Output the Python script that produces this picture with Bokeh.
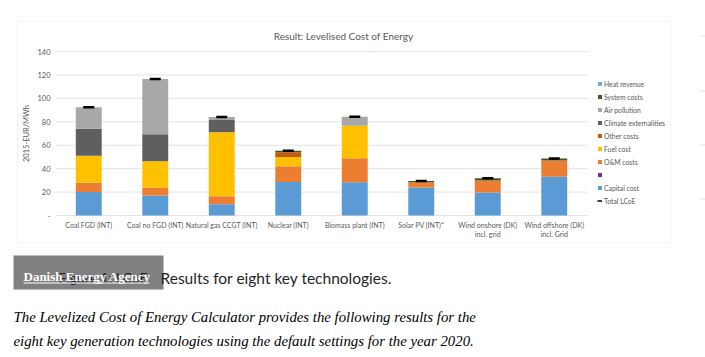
from bokeh.plotting import figure
from bokeh.models import (ColumnDataSource, Range1d, Legend, LegendItem, Label, BoxAnnotation,
                          FixedTicker, CustomJSTickFormatter)
from bokeh.embed import file_html
from bokeh.resources import INLINE

# ---- data ----
categories = ["Coal FGD (INT)", "Coal no FGD (INT)", "Natural gas CCGT (INT)", "Nuclear (INT)",
              "Biomass plant (INT)", "Solar PV (INT)*", "Wind onshore (DK)\nincl. grid",
              "Wind offshore (DK)\nincl. Grid"]
capital = [20.0, 17.0, 9.5, 28.7, 28.4, 24.0, 19.6, 33.0]
blank = [0, 0, 0, 0, 0, 0, 0, 0]
om = [8.0, 6.6, 7.0, 13.3, 20.5, 4.4, 10.2, 13.9]
fuel = [23.0, 22.7, 54.5, 7.7, 27.8, 0, 0, 0]
other = [0, 0, 0, 4.3, 0, 0, 0, 0]
climate = [23.0, 23.0, 10.5, 0, 0, 0, 0, 0]
air = [18.5, 47.2, 2.6, 0, 7.7, 0, 0, 0]
system = [0, 0, 0, 1.2, 0, 1.1, 2.0, 1.7]
heat = [0, 0, 0, 0, 0, 0, 0, 0]
total = [92.5, 116.5, 84.1, 55.2, 84.4, 29.5, 31.8, 48.6]
yticks = [0, 20, 40, 60, 80, 100, 120, 140]

keys = ["capital", "blank", "om", "fuel", "other", "climate", "air", "system", "heat"]
labels = ["Capital cost", " ", "O&M costs", "Fuel cost", "Other costs",
          "Climate externalities", "Air pollution", "System costs", "Heat revenue"]
colors = ["#5B9BD5", "#7030A0", "#ED7D31", "#FFC000", "#C55A11",
          "#5F5F5F", "#A9A7A8", "#3E5A25", "#7FA7D6"]

xpos = list(range(len(categories)))
src = ColumnDataSource(dict(x=xpos, capital=capital, blank=blank, om=om, fuel=fuel,
                            other=other, climate=climate, air=air, system=system,
                            heat=heat, total=total, nan=[float("nan")] * len(categories)))
grid_src = ColumnDataSource(dict(y=yticks, x0=[-0.5] * len(yticks),
                                 x1=[len(categories) - 0.5] * len(yticks)))

FONT = "Lato"
GREY = "#595959"
W, H = 705, 357
# plot area of the chart: x 55..587 px, value 0 at y=215 px, 140 at y=51 px
cat_px = (587 - 55) / len(categories)
x_start = -0.5 - 55 / cat_px
x_end = len(categories) - 0.5 + (W - 587) / cat_px
unit_px = (215 - 51) / 140
y_start = -(H - 215) / unit_px
y_end = 215 / unit_px

p = figure(x_range=Range1d(x_start, x_end), y_range=Range1d(y_start, y_end),
           width=W, height=H, min_border=0, toolbar_location=None,
           output_backend="svg", outline_line_color=None, background_fill_color="white",
           border_fill_color="white", x_axis_location="below", y_axis_location="left")
p.xgrid.visible = False
p.ygrid.visible = False

# gridlines restricted to the plot area
p.segment(x0="x0", x1="x1", y0="y", y1="y", line_color="#E3E3E3", line_width=1, source=grid_src)

rs = p.vbar_stack(keys, x="x", width=0.39, fill_color=colors, line_color=None, source=src)
tot = p.scatter(x="x", y="total", marker="dash", size=11, line_width=2.5,
                line_color="black", source=src)
# legend swatch for the total (a short black line, as in the reference legend)
tot_key = p.line(x="x", y="nan", line_color="black", line_width=1.5, source=src)

# axes fixed inside the canvas
xa = p.xaxis[0]
ya = p.yaxis[0]
xa.fixed_location = 0
ya.fixed_location = -0.5
xa.bounds = (-0.5, len(categories) - 0.5)
ya.bounds = (0, 140)
xa.ticker = FixedTicker(ticks=xpos)
xa.formatter = CustomJSTickFormatter(args=dict(names=categories),
                                     code="const i = Math.round(tick); return (i >= 0 && i < names.length) ? names[i] : '';")
ya.ticker = FixedTicker(ticks=yticks)
ya.formatter = CustomJSTickFormatter(code="return tick == 0 ? '-' : tick.toString();")
for ax in (xa, ya):
    ax.axis_line_color = None
    ax.major_tick_line_color = None
    ax.minor_tick_line_color = None
    ax.major_tick_out = 0
    ax.major_tick_in = 0
    ax.minor_tick_out = 0
    ax.minor_tick_in = 0
    ax.major_label_text_font = FONT
    ax.major_label_text_color = GREY
xa.major_label_text_font_size = "7px"
ya.major_label_text_font_size = "7.5px"
xa.major_label_standoff = 5
ya.major_label_standoff = 5
ya.axis_label = "2015-EUR/MWh"
ya.axis_label_text_font = FONT
ya.axis_label_text_font_size = "7.5px"
ya.axis_label_text_font_style = "normal"
ya.axis_label_text_color = GREY
ya.axis_label_standoff = 3

# legend (reverse order, as in Excel)
items = [LegendItem(label=labels[i], renderers=[rs[i]]) for i in range(len(keys) - 1, -1, -1)]
items.append(LegendItem(label="Total LCoE", renderers=[tot_key]))
leg = Legend(items=items, location=(597, 150), padding=0, margin=0, spacing=0,
             label_height=13, glyph_height=5, glyph_width=5, label_standoff=2,
             label_text_font=FONT, label_text_font_size="6.8px", label_text_color=GREY,
             border_line_color=None, background_fill_alpha=0)
p.add_layout(leg)

# screen-unit helpers (origin bottom-left of canvas)
S = dict(x_units="screen", y_units="screen")
B = dict(left_units="screen", right_units="screen", top_units="screen", bottom_units="screen")

def sy(y):
    return H - y

p.add_layout(BoxAnnotation(left=17, right=670, top=sy(21), bottom=sy(242), fill_color=None,
                           line_color="#D9D9D9", line_width=1, **B))
p.add_layout(Label(x=343, y=sy(35), text="Result: Levelised Cost of Energy", text_align="center",
                   text_baseline="middle", text_font=FONT, text_font_size="10px",
                   text_color=GREY, **S))

for yy in (35, 90, 144, 198):
    p.add_layout(BoxAnnotation(left=699, right=705, top=sy(yy), bottom=sy(yy + 1),
                               fill_color="#E6E6E6", fill_alpha=1, line_color=None, **B))

# caption area
p.add_layout(BoxAnnotation(left=13, right=163, top=sy(255), bottom=sy(289), fill_color="#808080",
                           fill_alpha=1, line_color=None, **B))
p.add_layout(Label(x=58, y=sy(277), text="Figure 1: LCoE", text_baseline="middle",
                   text_font=FONT, text_font_size="14px", text_color="#262626", **S))
p.add_layout(Label(x=160, y=sy(277), text="Results for eight key technologies.",
                   text_baseline="middle", text_font=FONT, text_font_size="15.5px",
                   text_color="#262626", **S))
p.add_layout(Label(x=23, y=sy(276), text="Danish Energy Agency", text_baseline="middle",
                   text_font="Liberation Serif", text_font_size="13px", text_font_style="bold",
                   text_color="white", **S))
p.add_layout(BoxAnnotation(left=23, right=149, top=sy(282), bottom=sy(283), fill_color="white",
                           fill_alpha=1, line_color=None, **B))
p.add_layout(Label(x=13, y=sy(316),
                   text="The Levelized Cost of Energy Calculator provides the following results for the",
                   text_baseline="alphabetic", text_font="Liberation Serif", text_font_size="14.8px",
                   text_font_style="italic", text_color="black", **S))
p.add_layout(Label(x=13, y=sy(340),
                   text="eight key generation technologies using the default settings for the year 2020.",
                   text_baseline="alphabetic", text_font="Liberation Serif", text_font_size="14.8px",
                   text_font_style="italic", text_color="black", **S))

open("out.html", "w").write(file_html(p, INLINE))
